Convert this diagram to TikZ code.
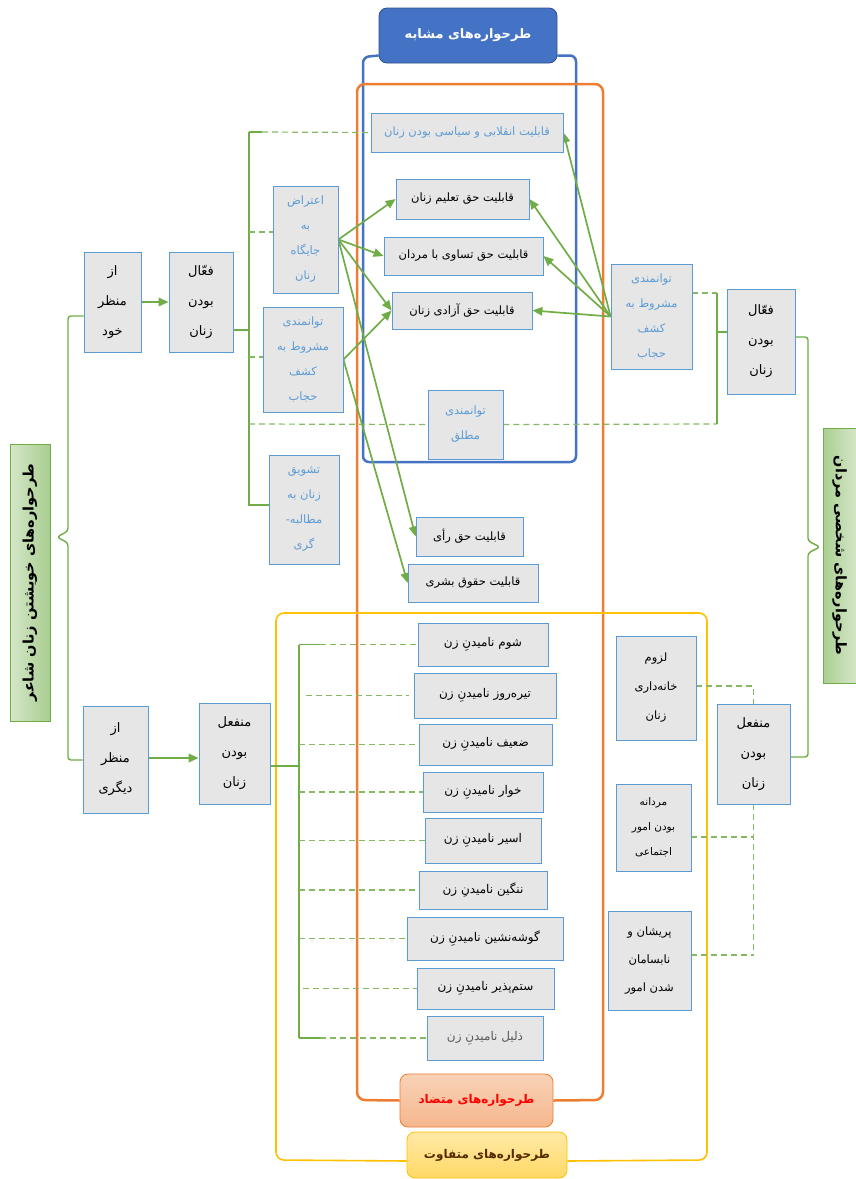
\documentclass[tikz,border=0pt]{standalone}
\usepackage{fontspec}
\newfontfamily\arabicfont[Script=Arabic]{DejaVu Sans}
\TeXXeTstate=1
\usetikzlibrary{arrows.meta}
\usetikzlibrary{backgrounds,positioning}
\newcommand{\fa}[1]{\beginR#1\endR}
\definecolor{boxFill}{HTML}{E7E6E6}
\definecolor{boxLine}{HTML}{5B9BD5}
\definecolor{paleText}{HTML}{5B9BD5}
\definecolor{penGreen}{HTML}{70AD47}
\definecolor{penBlue}{HTML}{4472C4}
\definecolor{penOrange}{HTML}{ED7D31}
\definecolor{penYellow}{HTML}{FFC000}
\colorlet{labelDark}{penGreen!60}
\colorlet{labelLight}{penGreen!30}
\tikzset{>={Triangle[length=10pt,width=8.5pt]}}
\tikzset{
  box/.style={draw=boxLine,fill=boxFill,line width=0.8pt,align=center,inner sep=1pt,
    font=\arabicfont\fontsize{12}{24}\selectfont},
  pale/.style={box,text=paleText,font=\arabicfont\fontsize{11.5}{25}\selectfont},
  big/.style={font=\arabicfont\fontsize{13}{30}\selectfont},
  link/.style={penGreen,line width=1.2pt},
  dash link/.style={penGreen!85,line width=1.2pt,dash pattern=on 6pt off 4pt},
  arr/.style={penGreen,line width=1.7pt,->},
  brace line/.style={penGreen,line width=1.4pt,rounded corners=3pt},
  title/.style={rounded corners=8pt,line width=0.8pt,align=center,
    font=\arabicfont\bfseries\fontsize{12}{14}\selectfont},
  side label/.style={draw=penGreen,line width=0.8pt,
    font=\arabicfont\bfseries\fontsize{14.5}{16}\selectfont},
}

\begin{document}
\begin{tikzpicture}[x=1pt,y=-1pt]
  \useasboundingbox (0,0) rectangle (856,1179);

  % titles of the three groups
  \node[title,draw=penBlue!70!black,fill=penBlue,text=white,minimum width=178pt,minimum height=55pt,font=\arabicfont\bfseries\fontsize{13}{15}\selectfont] (mashabeh) at (468,35.5) {\fa{طرحواره‌های مشابه}};
  \node[title,draw=penOrange,top color=penOrange!35,bottom color=penOrange!55,text=red,minimum width=153pt,minimum height=53pt] (motezad) at (476.5,1100.5) {\fa{طرحواره‌های متضاد}};
  \node[title,draw=penYellow,top color=penYellow!35,bottom color=penYellow!60,text=black!45!orange!60!black,minimum width=160pt,minimum height=46pt] (motefavet) at (487,1155) {\fa{طرحواره‌های متفاوت}};

  % side labels
  \node[side label,left color=labelLight,right color=labelDark,rotate=90,minimum width=277pt,minimum height=40pt] (selfLabel) at (30,582.5) {\fa{طرحواره‌های خویشتن زنان شاعر}};
  \node[side label,left color=labelDark,right color=labelLight,rotate=-90,minimum width=255pt,minimum height=33pt] (menLabel) at (839.5,555.5) {\fa{طرحواره‌های شخصی مردان}};

  % left side
  \node[box,big,minimum width=57pt,minimum height=100pt] (azKhod) at (112.5,302) {\fa{از}\\\fa{منظر}\\\fa{خود}};
  \node[box,big,minimum width=64pt,minimum height=100pt] (faal) at (201,302) {\fa{فعّال}\\\fa{بودن}\\\fa{زنان}};
  \node[box,big,minimum width=65pt,minimum height=107pt] (azDigari) at (115.5,759.5) {\fa{از}\\\fa{منظر}\\\fa{دیگری}};
  \node[box,big,minimum width=71pt,minimum height=101pt] (monfael) at (234.5,753.5) {\fa{منفعل}\\\fa{بودن}\\\fa{زنان}};

  \node[pale,minimum width=65pt,minimum height=107pt] (eteraz) at (305.5,239.5) {\fa{اعتراض}\\\fa{به}\\\fa{جایگاه}\\\fa{زنان}};
  \node[pale,minimum width=80pt,minimum height=105pt] (mashrootL) at (303,359.5) {\fa{توانمندی}\\\fa{مشروط به}\\\fa{کشف}\\\fa{حجاب}};
  \node[pale,minimum width=70pt,minimum height=109pt] (tashvigh) at (304,509.5) {\fa{تشویق}\\\fa{زنان به}\\\fa{مطالبه-}\\\fa{گری}};

  % similar schemas
  \node[pale,minimum width=192pt,minimum height=39pt] (enghelabi) at (467,132.5) {\fa{قابلیت انقلابی و سیاسی بودن زنان}};
  \node[box,minimum width=133pt,minimum height=40pt,font=\arabicfont\fontsize{11.5}{24}\selectfont] (talim) at (462.5,199) {\fa{قابلیت حق تعلیم زنان}};
  \node[box,minimum width=159pt,minimum height=38pt,font=\arabicfont\fontsize{11.5}{24}\selectfont] (tasavi) at (463.5,256) {\fa{قابلیت حق تساوی با مردان}};
  \node[box,minimum width=140pt,minimum height=37pt,font=\arabicfont\fontsize{11.5}{24}\selectfont] (azadi) at (462,310.5) {\fa{قابلیت حق آزادی زنان}};
  \node[pale,minimum width=75pt,minimum height=69pt] (motlagh) at (465.5,424.5) {\fa{توانمندی}\\\fa{مطلق}};
  \node[box,minimum width=107pt,minimum height=39pt,font=\arabicfont\fontsize{11.5}{24}\selectfont] (ray) at (469.5,536.5) {\fa{قابلیت حق رأی}};
  \node[box,minimum width=130pt,minimum height=38pt,font=\arabicfont\fontsize{11.5}{24}\selectfont] (hoghugh) at (473,583) {\fa{قابلیت حقوق بشری}};

  % right side
  \node[pale,minimum width=81pt,minimum height=105pt] (mashrootR) at (651.5,316.5) {\fa{توانمندی}\\\fa{مشروط به}\\\fa{کشف}\\\fa{حجاب}};
  \node[box,big,minimum width=68pt,minimum height=105pt] (faalR) at (761,341.5) {\fa{فعّال}\\\fa{بودن}\\\fa{زنان}};
  \node[box,minimum width=80pt,minimum height=104pt,font=\arabicfont\fontsize{11.5}{29}\selectfont] (lozoom) at (656,688) {\fa{لزوم}\\\fa{خانه‌داری}\\\fa{زنان}};
  \node[box,big,minimum width=73pt,minimum height=100pt] (monfaelR) at (753.5,754) {\fa{منفعل}\\\fa{بودن}\\\fa{زنان}};
  \node[box,minimum width=75pt,minimum height=87pt,font=\arabicfont\fontsize{10.5}{25}\selectfont] (mardane) at (653.5,827.5) {\fa{مردانه}\\\fa{بودن امور}\\\fa{اجتماعی}};
  \node[box,minimum width=83pt,minimum height=99pt,font=\arabicfont\fontsize{11.5}{28}\selectfont] (parishan) at (649.5,960.5) {\fa{پریشان و}\\\fa{نابسامان}\\\fa{شدن امور}};

  % opposite schemas
  \node[box,minimum width=130pt,minimum height=43pt] (shoom) at (483,644.5) {\fa{شوم نامیدنِ زن}};
  \node[box,minimum width=142pt,minimum height=45pt] (tireh) at (485,695.5) {\fa{تیره‌روز نامیدنِ زن}};
  \node[box,minimum width=133pt,minimum height=41pt] (zaeef) at (485.5,744.5) {\fa{ضعیف نامیدنِ زن}};
  \node[box,minimum width=120pt,minimum height=40pt] (khar) at (483,792) {\fa{خوار نامیدنِ زن}};
  \node[box,minimum width=116pt,minimum height=45pt] (asir) at (483,840.5) {\fa{اسیر نامیدنِ زن}};
  \node[box,minimum width=128pt,minimum height=38pt] (nangin) at (483,890) {\fa{ننگین نامیدنِ زن}};
  \node[box,minimum width=156pt,minimum height=43pt] (gooshe) at (485,938.5) {\fa{گوشه‌نشین نامیدنِ زن}};
  \node[box,minimum width=137pt,minimum height=41pt] (setam) at (485.5,988.5) {\fa{ستم‌پذیر نامیدنِ زن}};
  \node[box,minimum width=116pt,minimum height=44pt,text=black!65] (zalil) at (485,1038) {\fa{ذلیل نامیدنِ زن}};

  \begin{pgfonlayer}{background}
    % group brackets
    \draw[penBlue,line width=2.5pt,rounded corners=6pt] ([yshift=-20pt]mashabeh.west) -- (363,57) -- (363,462) -- (576,462) -- (576,55.5) -- ([yshift=-20pt]mashabeh.east);
    \draw[penOrange,line width=2.5pt,rounded corners=8pt] (motezad.west) -- (357,1100) -- (357,84) -- (603,84) -- (603,1100) -- (motezad.east);
    \draw[penYellow,line width=1.6pt,rounded corners=8pt] ([yshift=-6pt]motefavet.west) -- (276,1160) -- (276,613) -- (707,613) -- (707,1160) -- ([yshift=-6pt]motefavet.east);

    % braces
    \draw[brace line] (azKhod.west |- 0,316) -- (68,316) -- (68,531) -- (57,537) -- (68,543) -- (68,760) -- (azDigari.west |- 0,760);
    \draw[brace line] (faalR.east |- 0,337) -- (808,337) -- (808,541) -- (820,547) -- (808,553) -- (808,757) -- (monfaelR.east |- 0,757);

    % arrows
    \draw[penGreen,line width=1.7pt,->] (azKhod.east) -- (faal.west);
    \draw[penGreen,line width=1.7pt,->] (azDigari.east |- 0,758) -- (monfael.west |- 0,758);

    % tree of faal
    \coordinate (fSpine) at (249,330);
    \draw[link] (faal.east |- fSpine) -- (fSpine);
    \draw[link] (249,132) -- (249,505) -- (tashvigh.west |- 0,505);
    \draw[link] (249,132) -- (262,132);
    \draw[dash link] (262,132) -- (enghelabi.west);
    \draw[dash link] (249,232) -- (eteraz.west |- 0,232);
    \draw[dash link] (249,357) -- (mashrootL.west |- 0,357);
    \draw[dash link] (249,424) -- (motlagh.west);
    \draw[dash link] (motlagh.east) -- (717,424);

    % tree of faalR
    \coordinate (rSpine) at (717,332);
    \draw[link] (717,293) -- (717,424);
    \draw[link] (rSpine) -- (faalR.west |- rSpine);
    \draw[dash link] (mashrootR.east |- 0,293) -- (717,293);

    \draw[arr] (eteraz.east) -- (talim.west);
    \draw[arr] (eteraz.east) -- (tasavi.west);
    \draw[arr] (eteraz.east) -- (azadi.west);
    \draw[arr] (eteraz.east) -- (ray.west);
    \draw[arr] (mashrootL.east) -- (azadi.west);
    \draw[arr] (mashrootL.east) -- (hoghugh.west);
    \draw[arr] (mashrootR.west) -- (enghelabi.east);
    \draw[arr] (mashrootR.west) -- (talim.east);
    \draw[arr] (mashrootR.west) -- (tasavi.east);
    \draw[arr] (mashrootR.west) -- (azadi.east);

    % tree of monfael
    \coordinate (mSpine) at (299,766);
    \draw[link,line width=1.6pt] (monfael.east |- mSpine) -- (mSpine);
    \draw[link,line width=1.4pt] (mSpine |- shoom.west) -- (mSpine |- zalil.west);
    \draw[link,line width=1.4pt] (mSpine |- shoom.west) -- ++(21,0);
    \draw[link,line width=1.4pt] (mSpine |- zalil.west) -- ++(21,0);
    \draw[dash link] ([xshift=21pt]mSpine |- shoom.west) -- (shoom.west);
    \draw[dash link] ([xshift=7pt]mSpine |- tireh.west) -- ([xshift=-5pt]tireh.west);
    \draw[dash link] (mSpine |- zaeef.west) -- (zaeef.west);
    \draw[dash link] (mSpine |- khar.west) -- (khar.west);
    \draw[dash link] (mSpine |- asir.west) -- (asir.west);
    \draw[dash link] (mSpine |- nangin.west) -- (nangin.west);
    \draw[dash link] (mSpine |- gooshe.west) -- (gooshe.west);
    \draw[dash link] ([xshift=4pt]mSpine |- setam.west) -- (setam.west);
    \draw[dash link] ([xshift=21pt]mSpine |- zalil.west) -- (zalil.west);

    % tree of monfaelR
    \draw[dash link] (lozoom.east |- 0,686) -- (monfaelR.north |- 0,686) -- (monfaelR.north);
    \draw[dash link] (monfaelR.south) -- (monfaelR.south |- 0,955);
    \draw[dash link] (mardane.east |- 0,837) -- (monfaelR.south |- 0,837);
    \draw[dash link] (parishan.east |- 0,955) -- (monfaelR.south |- 0,955);
  \end{pgfonlayer}
\end{tikzpicture}
\end{document}
